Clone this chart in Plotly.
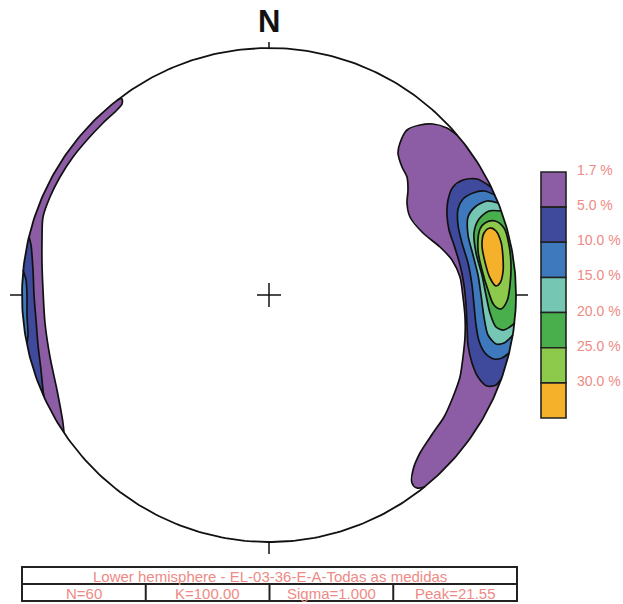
import numpy as np
import plotly.graph_objects as go

# ---------------- data ----------------
# Contour outlines, net centre = (0, 0),
# net radius = 247 digitising units, y pointing north.
# Open contours end on the primitive circle and are closed along it.
NET_UNITS = 247.0

LEVEL_LABELS = ["1.7 %", "5.0 %", "10.0 %", "15.0 %", "20.0 %", "25.0 %", "30.0 %"]
LEVEL_COLORS = ["#8C5CA4", "#3F4A9C", "#3E79BE", "#76C6B4", "#49AE4C", "#8DC94B", "#F6B12B"]

EAST_1 = [(188, 160), (178, 167), (164, 171), (151, 170), (138, 165), (131, 152), (129, 142),
          (133, 128), (138, 118), (139, 105), (138, 92), (141, 78), (154, 62), (171, 48),
          (183, 35), (191, 18), (194, -2), (196, -22), (196, -42), (194, -62), (191, -82),
          (184, -102), (175, -122), (164, -138), (151, -158), (144, -175), (143, -188),
          (148, -193), (156, -192)]
EAST_2 = [(222, 108), (208, 116), (194, 115), (184, 108), (179, 95), (178, 80), (180, 65),
          (185, 50), (191, 30), (195, 10), (197, -10), (198, -30), (199, -50), (203, -68),
          (209, -82), (218, -91), (227, -90), (232, -84)]
EAST_3 = [(226, 100), (215, 104), (204, 102), (194, 96), (189, 86), (189, 70), (193, 52),
          (199, 32), (203, 10), (205, -10), (207, -30), (210, -46), (216, -58), (225, -64),
          (233, -63), (240, -58)]
EAST_4 = [(229, 92), (218, 94), (206, 88), (199, 78), (199, 60), (204, 40), (209, 20),
          (212, 0), (215, -22), (219, -40), (227, -49), (235, -48), (244, -40)]
EAST_5 = [(232, 84), (220, 84), (210, 76), (205, 62), (207, 42), (213, 20), (217, 0),
          (221, -18), (227, -32), (235, -35), (246, -28)]
EAST_6 = [(211, 66), (216, 72), (226, 74), (235, 67), (240, 50), (242, 30), (241, 10),
          (238, -6), (232, -14), (225, -10), (219, 5), (213, 25), (209, 45)]
EAST_7 = [(221, 67), (227, 64), (232, 53), (234, 37), (234, 23), (231, 12), (227, 9),
          (221, 17), (216, 33), (213, 50), (215, 62)]

WEST_1 = [(-152, 195), (-147, 196), (-147, 191), (-152, 185), (-166, 172), (-182, 155),
          (-196, 138), (-209, 118), (-219, 98), (-226, 78), (-227, 55), (-227, 32),
          (-226, 5), (-224, -28), (-219, -62), (-212, -95), (-206, -128), (-205, -138)]
WEST_2 = [(-240, 58), (-238, 50), (-236, 25), (-235, 0), (-233, -25), (-231, -50),
          (-228, -75), (-226, -95), (-225, -102)]
WEST_3 = [(-246, 25), (-243, 15), (-242, 0), (-242, -20), (-241, -40), (-242, -48)]

# (outline, level index, closed-inside-net?)
CONTOURS = [
    (EAST_1, 0, False), (EAST_2, 1, False), (EAST_3, 2, False), (EAST_4, 3, False),
    (EAST_5, 4, False), (EAST_6, 5, True), (EAST_7, 6, True),
    (WEST_1, 0, False), (WEST_2, 1, False), (WEST_3, 2, False),
]

TITLE_TEXT = "Lower hemisphere - EL-03-36-E-A-Todas as medidas"
STATS_TEXT = ["N=60", "K=100.00", "Sigma=1.000", "Peak=21.55"]

# ---------------- layout helpers ----------------
W, H = 623, 604
CX, CY, R = 269.0, 295.0, 247.0     # net centre / radius in page pixels
TXT = "#EE8A85"
FONT = "Arial, Liberation Sans, sans-serif"


def px(x):
    return x / W


def py(y):
    return 1 - y / H


def arc(a0, a1, n=80):
    d = (a1 - a0 + np.pi) % (2 * np.pi) - np.pi
    t = np.linspace(a0, a0 + d, n)
    return np.cos(t), np.sin(t)


fig = go.Figure()

for pts, lev, closed in CONTOURS:
    x = np.array([p[0] for p in pts]) / NET_UNITS
    y = np.array([p[1] for p in pts]) / NET_UNITS
    if not closed:
        a_end = np.arctan2(y[-1], x[-1])
        a_start = np.arctan2(y[0], x[0])
        ax_, ay_ = arc(a_end, a_start)
        xs = np.concatenate([x, ax_])
        ys = np.concatenate([y, ay_])
        fig.add_trace(go.Scatter(x=xs, y=ys, mode="lines", fill="toself",
                                 fillcolor=LEVEL_COLORS[lev],
                                 line=dict(color="rgba(0,0,0,0)", width=0),
                                 hoverinfo="skip", showlegend=False))
        fig.add_trace(go.Scatter(x=x, y=y, mode="lines",
                                 line=dict(color="#111111", width=1.7, shape="spline", smoothing=0.8),
                                 hoverinfo="skip", showlegend=False))
    else:
        xs = np.append(x, x[0])
        ys = np.append(y, y[0])
        fig.add_trace(go.Scatter(x=xs, y=ys, mode="lines", fill="toself",
                                 fillcolor=LEVEL_COLORS[lev],
                                 line=dict(color="#111111", width=1.7, shape="spline", smoothing=1.0),
                                 hoverinfo="skip", showlegend=False))

# primitive circle
t = np.linspace(0, 2 * np.pi, 400)
fig.add_trace(go.Scatter(x=np.cos(t), y=np.sin(t), mode="lines",
                         line=dict(color="#111111", width=1.8),
                         hoverinfo="skip", showlegend=False))

# centre cross and cardinal ticks (in net units)
c = 12 / R
k = 12 / R
segs = [((-c, c), (0, 0)), ((0, 0), (-c, c)),
        ((0, 0), (1, 1 + 6 / R)), ((0, 0), (-1, -1 - k)),
        ((-1, -1 - k), (0, 0)), ((1, 1 + k), (0, 0))]
for xx, yy in segs:
    fig.add_trace(go.Scatter(x=list(xx), y=list(yy), mode="lines",
                             line=dict(color="#111111", width=1.5),
                             hoverinfo="skip", showlegend=False))

shapes = []
annotations = []

# North label
annotations.append(dict(x=px(269), y=py(21), xref="paper", yref="paper", text="<b>N</b>",
                        showarrow=False, font=dict(family=FONT, size=31, color="#111111"),
                        xanchor="center", yanchor="middle"))

# legend boxes
top, bot = 172.0, 418.0
bh = (bot - top) / len(LEVEL_COLORS)
for i, col in enumerate(LEVEL_COLORS):
    y0 = top + i * bh
    shapes.append(dict(type="rect", xref="paper", yref="paper",
                       x0=px(541), x1=px(566), y0=py(y0), y1=py(y0 + bh),
                       fillcolor=col, line=dict(color="#222222", width=1.6)))
    annotations.append(dict(x=px(575), y=py(y0 - 2), xref="paper", yref="paper",
                            text=LEVEL_LABELS[i], showarrow=False,
                            font=dict(family=FONT, size=14, color=TXT),
                            xanchor="left", yanchor="middle"))

# info table
tl, tr, tt, tm, tb = 22, 517, 567, 584, 601
shapes.append(dict(type="rect", xref="paper", yref="paper", x0=px(tl), x1=px(tr),
                   y0=py(tt), y1=py(tb), line=dict(color="#222222", width=2)))
shapes.append(dict(type="line", xref="paper", yref="paper", x0=px(tl), x1=px(tr),
                   y0=py(tm), y1=py(tm), line=dict(color="#222222", width=2)))
cw = (tr - tl) / len(STATS_TEXT)
for i in range(1, len(STATS_TEXT)):
    shapes.append(dict(type="line", xref="paper", yref="paper", x0=px(tl + i * cw),
                       x1=px(tl + i * cw), y0=py(tm), y1=py(tb),
                       line=dict(color="#222222", width=2)))
annotations.append(dict(x=px((tl + tr) / 2), y=py((tt + tm) / 2 + 0.5), xref="paper", yref="paper",
                        text=TITLE_TEXT, showarrow=False,
                        font=dict(family=FONT, size=15, color=TXT),
                        xanchor="center", yanchor="middle"))
for i, s in enumerate(STATS_TEXT):
    annotations.append(dict(x=px(tl + (i + 0.5) * cw), y=py((tm + tb) / 2 + 0.5),
                            xref="paper", yref="paper", text=s, showarrow=False,
                            font=dict(family=FONT, size=15, color=TXT),
                            xanchor="center", yanchor="middle"))

fig.update_layout(
    width=W, height=H, autosize=False,
    margin=dict(l=0, r=0, t=0, b=0),
    paper_bgcolor="white", plot_bgcolor="white",
    xaxis=dict(range=[-CX / R, (W - CX) / R], visible=False, fixedrange=True),
    yaxis=dict(range=[(CY - H) / R, CY / R], visible=False, fixedrange=True),
    shapes=shapes, annotations=annotations,
)

fig.write_html(
    "out.html",
    config={"displayModeBar": False},
    post_script="document.body.style.margin='0px';document.body.style.padding='0px';"
                "document.body.style.overflow='hidden';",
)
